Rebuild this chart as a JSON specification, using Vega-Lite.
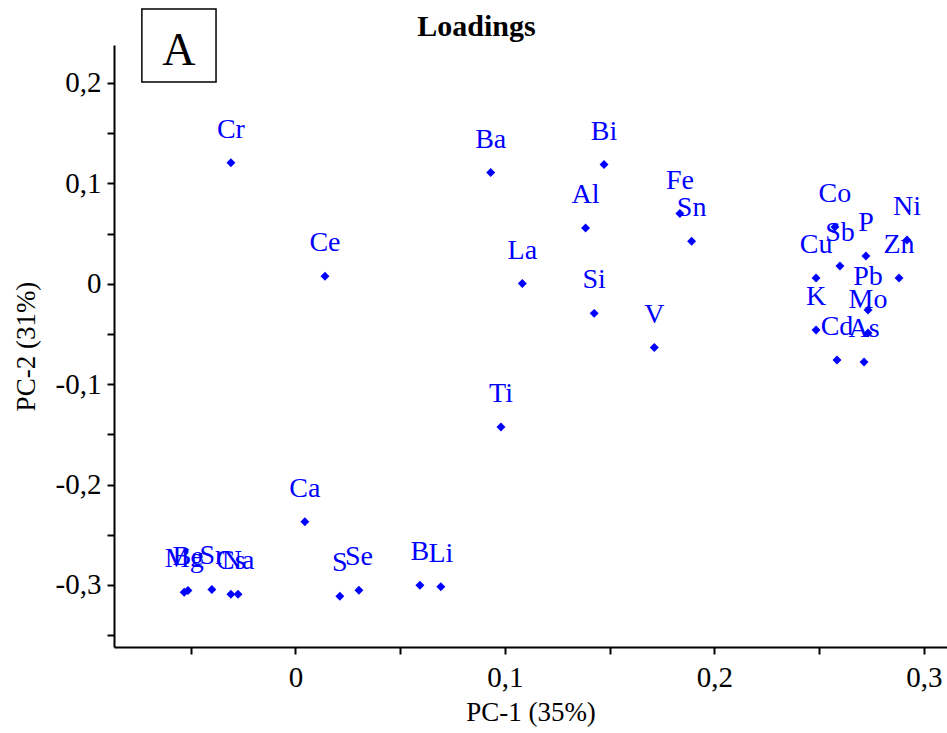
{
  "$schema": "https://vega.github.io/schema/vega-lite/v6.json",
  "autosize": "none",
  "width": 833,
  "height": 602,
  "padding": {"left": 114, "top": 45, "right": 0, "bottom": 86},
  "background": "white",
  "title": {"text": "Loadings", "font": "Liberation Serif", "fontSize": 30, "fontWeight": "bold", "color": "black", "anchor": "middle", "frame": "group", "dx": -54, "offset": -58, "baseline": "alphabetic"},
  "config": {
    "view": {"stroke": null},
    "axis": {"domainColor": "black", "domainWidth": 2, "tickColor": "black", "tickWidth": 2, "tickSize": 7, "grid": false, "labelFont": "Liberation Serif", "labelFontSize": 29, "labelColor": "black", "titleFont": "Liberation Serif", "titleFontSize": 27, "titleFontWeight": "normal", "titleColor": "black"}
  },
  "datasets": {
    "pts": [
      {"name": "Cr", "pc1": -0.0308, "pc2": 0.1205},
      {"name": "Ce", "pc1": 0.0141, "pc2": 0.0075},
      {"name": "Ba", "pc1": 0.0932, "pc2": 0.1108},
      {"name": "Bi", "pc1": 0.1473, "pc2": 0.1187},
      {"name": "Al", "pc1": 0.1385, "pc2": 0.0556},
      {"name": "Fe", "pc1": 0.1835, "pc2": 0.0699},
      {"name": "Sn", "pc1": 0.1891, "pc2": 0.0423},
      {"name": "La", "pc1": 0.1083, "pc2": 0.0002},
      {"name": "Si", "pc1": 0.1426, "pc2": -0.0295},
      {"name": "V", "pc1": 0.1713, "pc2": -0.0635},
      {"name": "Ti", "pc1": 0.0981, "pc2": -0.1427},
      {"name": "Ca", "pc1": 0.0045, "pc2": -0.2370},
      {"name": "S", "pc1": 0.0212, "pc2": -0.3112},
      {"name": "Se", "pc1": 0.0303, "pc2": -0.3052},
      {"name": "B", "pc1": 0.0594, "pc2": -0.3002},
      {"name": "Li", "pc1": 0.0694, "pc2": -0.3018},
      {"name": "Mg", "pc1": -0.0531, "pc2": -0.3072},
      {"name": "Be", "pc1": -0.0513, "pc2": -0.3055},
      {"name": "Sr", "pc1": -0.0399, "pc2": -0.3045},
      {"name": "Cs", "pc1": -0.0308, "pc2": -0.3092},
      {"name": "Na", "pc1": -0.0274, "pc2": -0.3092},
      {"name": "Co", "pc1": 0.2575, "pc2": 0.0565},
      {"name": "Ni", "pc1": 0.2919, "pc2": 0.0436},
      {"name": "P", "pc1": 0.2723, "pc2": 0.0277},
      {"name": "Sb", "pc1": 0.2599, "pc2": 0.0177},
      {"name": "Cu", "pc1": 0.2485, "pc2": 0.0058},
      {"name": "Zn", "pc1": 0.2881, "pc2": 0.0058},
      {"name": "Pb", "pc1": 0.2733, "pc2": -0.0261},
      {"name": "K", "pc1": 0.2485, "pc2": -0.0460},
      {"name": "Mo", "pc1": 0.2733, "pc2": -0.0490},
      {"name": "Cd", "pc1": 0.2585, "pc2": -0.0759},
      {"name": "As", "pc1": 0.2714, "pc2": -0.0779}
    ],
    "panel": [
      {"label": "A", "x1": -0.0733, "x2": -0.0379, "y1": 0.2010, "y2": 0.2737, "xm": -0.0556, "ym": 0.2179}
    ]
  },
  "layer": [
    {
      "mark": {"type": "rule", "color": "#808080", "strokeWidth": 1.5},
      "encoding": {"x": {"datum": 0, "type": "quantitative"}}
    },
    {
      "mark": {"type": "rule", "color": "#808080", "strokeWidth": 1.5},
      "encoding": {"y": {"datum": 0, "type": "quantitative"}}
    },
    {
      "data": {"name": "pts"},
      "mark": {"type": "point", "shape": "diamond", "filled": true, "color": "#0000FF", "size": 80, "opacity": 1},
      "encoding": {
        "x": {"field": "pc1", "type": "quantitative", "scale": {"domain": [-0.0866, 0.311], "nice": false, "zero": false},
          "axis": {"title": "PC-1 (35%)", "values": [-0.05, 0, 0.05, 0.1, 0.15, 0.2, 0.25, 0.3], "labelExpr": "round(datum.value*20) % 2 != 0 ? '' : replace(replace(format(datum.value, '.1~f'), '.', ','), '\u2212', '-')", "labelPadding": 9, "titlePadding": 7}},
        "y": {"field": "pc2", "type": "quantitative", "scale": {"domain": [-0.3618, 0.2378], "nice": false, "zero": false},
          "axis": {"title": "PC-2 (31%)", "values": [-0.35, -0.3, -0.25, -0.2, -0.15, -0.1, -0.05, 0, 0.05, 0.1, 0.15, 0.2], "labelExpr": "round(datum.value*20) % 2 != 0 ? '' : replace(replace(format(datum.value, '.1~f'), '.', ','), '\u2212', '-')", "labelPadding": 6, "titlePadding": 15}}
      }
    },
    {
      "data": {"name": "pts"},
      "mark": {"type": "text", "font": "Liberation Serif", "fontSize": 28, "color": "#0000FF", "baseline": "alphabetic", "align": "center", "dy": -25},
      "encoding": {
        "x": {"field": "pc1", "type": "quantitative"},
        "y": {"field": "pc2", "type": "quantitative"},
        "text": {"field": "name"}
      }
    },
    {
      "data": {"name": "panel"},
      "mark": {"type": "rect", "fill": "white", "stroke": "black", "strokeWidth": 1.5, "clip": false},
      "encoding": {
        "x": {"field": "x1", "type": "quantitative"},
        "x2": {"field": "x2"},
        "y": {"field": "y1", "type": "quantitative"},
        "y2": {"field": "y2"}
      }
    },
    {
      "data": {"name": "panel"},
      "mark": {"type": "text", "font": "Liberation Serif", "fontSize": 46, "color": "black", "baseline": "alphabetic", "align": "center", "clip": false},
      "encoding": {
        "x": {"field": "xm", "type": "quantitative"},
        "y": {"field": "ym", "type": "quantitative"},
        "text": {"field": "label"}
      }
    }
  ]
}
